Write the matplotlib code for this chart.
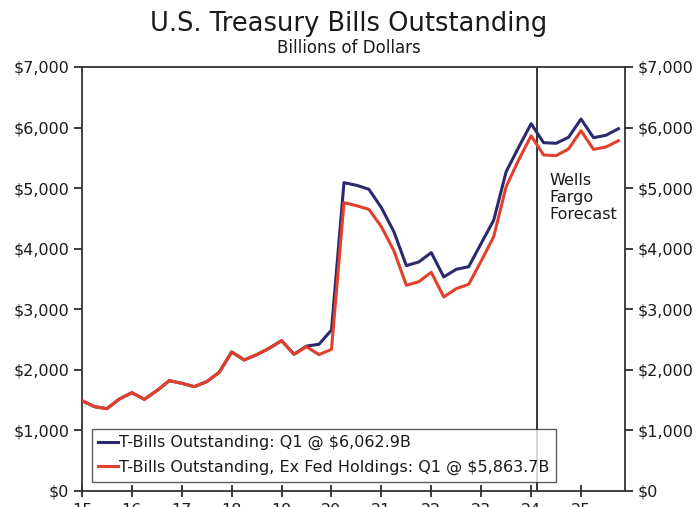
import numpy as np
import matplotlib
matplotlib.use("Agg")
import matplotlib.pyplot as plt
from matplotlib.ticker import FuncFormatter

plt.rcParams["font.family"] = ["DejaVu Sans"]

# Quarterly, 2015 Q1 through 2025 Q4 (forecast starts after 2024 Q1)
start_year = 2015
n_quarters = 44

bills_total = [
    1491, 1392, 1359, 1519,
    1623, 1513, 1656, 1821,
    1778, 1722, 1805, 1959,
    2295, 2163, 2250, 2355,
    2482, 2257, 2392, 2422,
    2658, 5090, 5047, 4981,
    4677, 4281, 3720, 3781,
    3935, 3533, 3660, 3703,
    4089, 4469, 5271, 5674,
    6062.9, 5750, 5740, 5839,
    6141, 5833, 5872, 5981,
]

bills_ex_fed = [
    1491, 1392, 1359, 1519,
    1623, 1513, 1656, 1821,
    1778, 1722, 1805, 1959,
    2295, 2163, 2250, 2355,
    2482, 2257, 2383, 2250,
    2339, 4760, 4710, 4650,
    4363, 3967, 3396, 3455,
    3610, 3203, 3340, 3412,
    3797, 4198, 5024, 5465,
    5863.7, 5547, 5536, 5646,
    5948, 5640, 5679, 5783,
]

year_labels = ["15", "16", "17", "18", "19", "20", "21", "22", "23", "24", "25"]
forecast_start = 2024.125

label_total = "T-Bills Outstanding: Q1 @ $6,062.9B"
label_ex_fed = "T-Bills Outstanding, Ex Fed Holdings: Q1 @ $5,863.7B"

BLUE = "#2b2a6e"
RED = "#e2402a"
INK = "#1a1a1a"

x = start_year + np.arange(n_quarters) / 4.0

fig = plt.figure(figsize=(6.97, 5.07), dpi=100)
ax = fig.add_axes([0.1176, 0.0316, 0.779, 0.8363])

ax.plot(x, bills_total, color=BLUE, lw=2.2, label=label_total, zorder=3)
ax.plot(x, bills_ex_fed, color=RED, lw=2.2, label=label_ex_fed, zorder=3)

ax.axvline(forecast_start, color="black", lw=1.1, zorder=2)
ax.text(forecast_start + 0.25, 5250, "Wells\nFargo\nForecast", fontsize=11.5,
        color=INK, va="top", ha="left", linespacing=1.15)

ax.set_xlim(2015, 2025.88)
ax.set_ylim(0, 7000)

ax.set_xticks(np.arange(2015, 2026))
ax.set_xticklabels(year_labels)
ax.set_yticks(np.arange(0, 7001, 1000))
ax.yaxis.set_major_formatter(FuncFormatter(lambda v, _: f"${v:,.0f}"))

# year labels sit low, mostly below the bottom edge of the canvas
ax.tick_params(axis="x", direction="inout", length=9, width=1.2, colors=INK,
               labelsize=11.5, pad=4.2)
ax.tick_params(axis="y", direction="out", length=6, width=1.2, colors=INK,
               labelsize=11.5, right=True, labelright=True, pad=3)

for side in ["left", "right", "top", "bottom"]:
    ax.spines[side].set_color("#333333")
    ax.spines[side].set_linewidth(1.3)

leg = ax.legend(loc="lower left", bbox_to_anchor=(0.018, 0.022), fontsize=11.5,
                frameon=True, fancybox=False, edgecolor="#333333",
                handlelength=1.25, handletextpad=0.05, borderpad=0.4,
                labelspacing=0.6, borderaxespad=0)
leg.get_frame().set_linewidth(1.0)
for t in leg.get_texts():
    t.set_color(INK)

fig.text(0.5, 0.952, "U.S. Treasury Bills Outstanding", ha="center", va="center",
         fontsize=18.5, color=INK)
fig.text(0.5, 0.905, "Billions of Dollars", ha="center", va="center",
         fontsize=12, color=INK)

fig.savefig("out.png", dpi=100)
